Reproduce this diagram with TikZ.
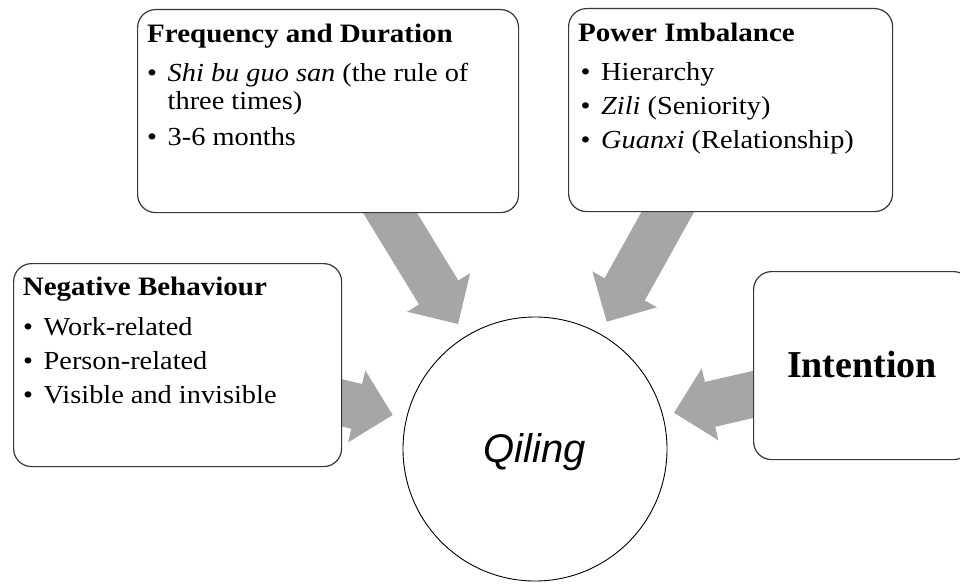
\documentclass[tikz,border=0pt]{standalone}
\usepackage{fontspec}
\setmainfont{Liberation Serif}[FakeStretch=1.09]
\newfontfamily\headfont{Liberation Serif}
\newfontfamily\labelfont{Liberation Sans}
\usetikzlibrary{calc}

\definecolor{arrowfill}{HTML}{A6A6A6}
\definecolor{boxline}{HTML}{383838}

\tikzset{
  infobox/.style={draw=boxline, line width=1.2pt, fill=white,
    rounded corners=18pt, inner sep=0pt, anchor=north west},
  titletext/.style={anchor=base west, inner sep=0pt,
    font=\fontsize{26.6}{28}\selectfont\bfseries},
  itemtext/.style={anchor=base west, inner sep=0pt,
    font=\fontsize{26}{28}\selectfont},
  centre/.style={draw=black, line width=0.9pt, fill=white, circle,
    minimum size=264pt, inner sep=0pt, text height=27pt, text depth=0pt,
    font=\labelfont\itshape\fontsize{40}{44}\selectfont},
}

% bullet with a hanging indent
\newcommand{\bul}{\makebox[20.5pt][l]{•}}
\newcommand{\hang}{\hspace*{20.5pt}}

% wide grey block arrow from #1 (tail) to #2 (tip)
\newcommand{\blockarrow}[2]{%
  \fill[arrowfill] let \p1=($(#2)-(#1)$), \n1={atan2(\y1,\x1)},
      \n2={veclen(\x1,\y1)-37} in
    ($(#1)+(\n1+90:23pt)$)
    -- ($(#1)+(\n1:\n2)+(\n1+90:23pt)$)
    -- ($(#1)+(\n1:\n2)+(\n1+90:37pt)$)
    -- (#2)
    -- ($(#1)+(\n1:\n2)+(\n1-90:37pt)$)
    -- ($(#1)+(\n1:\n2)+(\n1-90:23pt)$)
    -- ($(#1)+(\n1-90:23pt)$) -- cycle;}

\begin{document}
\begin{tikzpicture}[x=1pt, y=-1pt]
  \useasboundingbox (0,0) rectangle (960,583);
  \clip (0,0) rectangle (960,583);

  % arrow ends
  \coordinate (a1s) at (379.2,195.2);
  \coordinate (a1e) at (458,324);
  \coordinate (a2s) at (678,193.5);
  \coordinate (a2e) at (606.7,321.7);
  \coordinate (a3s) at (320,397.6);
  \coordinate (a3e) at (392.7,415);
  \coordinate (a4s) at (780,388.2);
  \coordinate (a4e) at (674,412.7);

  \blockarrow{a1s}{a1e}
  \blockarrow{a2s}{a2e}
  \blockarrow{a3s}{a3e}
  \blockarrow{a4s}{a4e}

  % central circle
  \node[centre] (qiling) at (535,449) {Qiling};

  % Frequency and Duration
  \node[infobox, minimum width=381pt, minimum height=203pt] (freq) at (137,9) {};
  \node[titletext] (freqt) at (147,42.7) {Frequency and Duration};
  \node[itemtext] (freq1) at (147,82) {\bul\textit{Shi bu guo san} (the rule of};
  \node[itemtext] (freq2) at (147,110) {\hang three times)};
  \node[itemtext] (freq3) at (147,146) {\bul 3-6 months};

  % Power Imbalance
  \node[infobox, minimum width=324pt, minimum height=203pt] (power) at (568,8) {};
  \node[titletext] (powert) at (578,41.7) {Power Imbalance};
  \node[itemtext] (power1) at (580.5,81) {\bul Hierarchy};
  \node[itemtext] (power2) at (580.5,114) {\bul\textit{Zili} (Seniority)};
  \node[itemtext] (power3) at (580.5,148) {\bul\textit{Guanxi} (Relationship)};

  % Negative Behaviour
  \node[infobox, minimum width=328pt, minimum height=203pt] (neg) at (13,263) {};
  \node[titletext] (negt) at (22.7,295) {Negative Behaviour};
  \node[itemtext] (neg1) at (23,335) {\bul Work-related};
  \node[itemtext] (neg2) at (23,369) {\bul Person-related};
  \node[itemtext] (neg3) at (23,403) {\bul Visible and invisible};

  % Intention
  \node[infobox, minimum width=218pt, minimum height=188pt] (intent) at (753,271) {};
  \node[inner sep=0pt, text height=24pt, text depth=0pt,
        font=\headfont\bfseries\fontsize{38}{42}\selectfont]
        (intentt) at (862,365) {Intention};
\end{tikzpicture}
\end{document}
